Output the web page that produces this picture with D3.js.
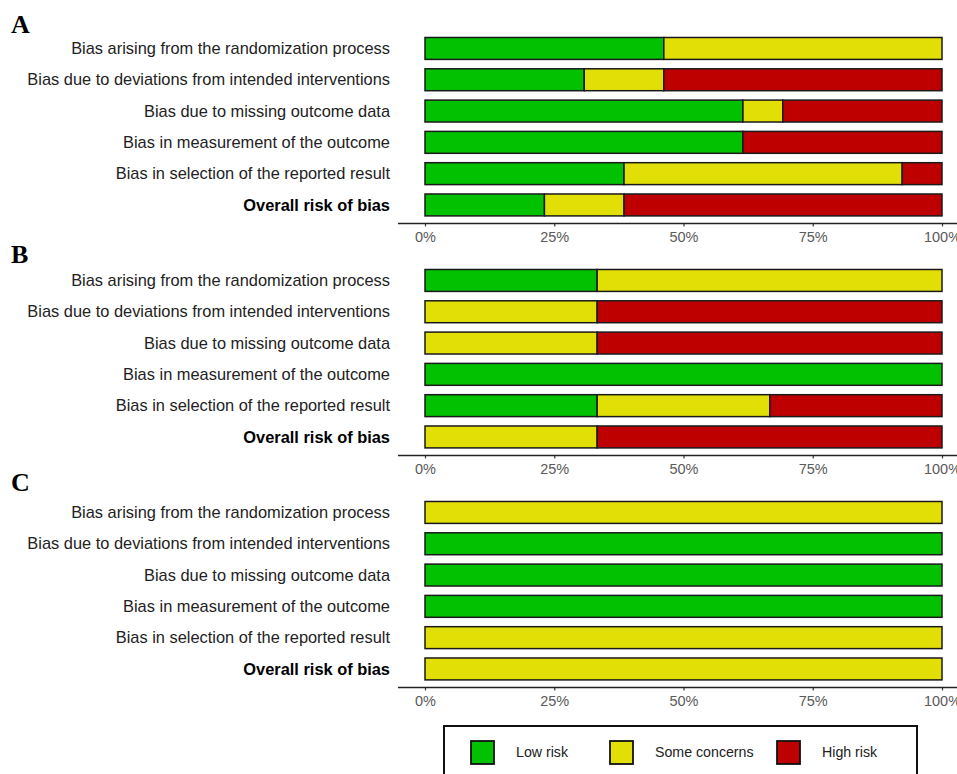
<!DOCTYPE html>
<html>
<head>
<meta charset="utf-8">
<script src="https://cdn.jsdelivr.net/npm/d3@7"></script>
<style>
  html, body { margin: 0; padding: 0; background: #fff; }
  svg { display: block; }
</style>
</head>
<body>
<svg id="chart" width="957" height="774"></svg>
<script>
// ---- data ----
const domains = [
  "Bias arising from the randomization process",
  "Bias due to deviations from intended interventions",
  "Bias due to missing outcome data",
  "Bias in measurement of the outcome",
  "Bias in selection of the reported result",
  "Overall risk of bias"
];
const panelLabels = ["A", "B", "C"];
const judgements = ["Low risk", "Some concerns", "High risk"];
const judgementColors = ["#02C100", "#E2DF07", "#BF0000"];
const tickValues = [0, 25, 50, 75, 100];

// percentage of studies per domain
const lowA  = [46.2, 30.8, 61.5, 61.5, 38.5, 23.1];
const someA = [53.8, 15.4,  7.7,  0.0, 53.8, 15.4];
const highA = [ 0.0, 53.8, 30.8, 38.5,  7.7, 61.5];

const lowB  = [33.3,  0.0,  0.0, 100.0, 33.3,  0.0];
const someB = [66.7, 33.3, 33.3,   0.0, 33.4, 33.3];
const highB = [ 0.0, 66.7, 66.7,   0.0, 33.3, 66.7];

const lowC  = [  0.0, 100.0, 100.0, 100.0,   0.0,   0.0];
const someC = [100.0,   0.0,   0.0,   0.0, 100.0, 100.0];
const highC = [  0.0,   0.0,   0.0,   0.0,   0.0,   0.0];

const panels = [
  { label: panelLabels[0], low: lowA, some: someA, high: highA },
  { label: panelLabels[1], low: lowB, some: someB, high: highB },
  { label: panelLabels[2], low: lowC, some: someC, high: highC }
];

// ---- layout ----
const svg = d3.select("#chart");
const x = d3.scaleLinear().domain([0, 100]).range([425, 942]);
const color = d3.scaleOrdinal().domain(judgements).range(judgementColors);
const panelTop0 = 32.8;
const panelStep = 232;
const bandStep = 31.3;
const labelRight = 390;

panels.forEach((p, pi) => {
  const top = panelTop0 + pi * panelStep;
  const y = d3.scaleBand().domain(domains)
    .range([top, top + bandStep * domains.length])
    .paddingInner(0.3).paddingOuter(0.15);

  const g = svg.append("g");

  // panel letter
  svg.append("text")
    .attr("x", 11).attr("y", 33 + pi * 230 - (pi === 2 ? 2 : 0))
    .attr("font-family", "Liberation Serif, Times New Roman, serif")
    .attr("font-weight", "bold")
    .attr("font-size", 26)
    .attr("fill", "#000")
    .text(p.label);

  const rows = domains.map((d, i) => ({
    domain: d, "Low risk": p.low[i], "Some concerns": p.some[i], "High risk": p.high[i]
  }));
  const series = d3.stack().keys(judgements)(rows);

  series.forEach(s => {
    g.selectAll(null)
      .data(s.filter(d => d[1] - d[0] > 0.01))
      .enter().append("rect")
      .attr("x", d => x(d[0]))
      .attr("width", d => x(d[1]) - x(d[0]))
      .attr("y", d => y(d.data.domain))
      .attr("height", y.bandwidth())
      .attr("fill", color(s.key))
      .attr("stroke", "#1a1a1a")
      .attr("stroke-width", 1.5);
  });

  // domain labels
  g.selectAll(null).data(domains).enter().append("text")
    .attr("x", labelRight)
    .attr("y", d => y(d) + y.bandwidth() / 2)
    .attr("dy", "0.35em")
    .attr("text-anchor", "end")
    .attr("font-family", "Liberation Sans, Arial, sans-serif")
    .attr("font-size", 16.4)
    .attr("font-weight", (d, i) => i === domains.length - 1 ? "bold" : "normal")
    .attr("fill", (d, i) => i === domains.length - 1 ? "#000" : "#222")
    .text(d => d);

  // x axis
  const axisY = y(domains[domains.length - 1]) + y.bandwidth() + 7.5;
  const axis = d3.axisBottom(x).tickValues(tickValues)
    .tickFormat(d => d + "%").tickSize(3).tickPadding(5.5);
  const ag = svg.append("g").attr("transform", `translate(0,${axisY})`).call(axis);
  ag.select(".domain").remove();
  ag.append("line").attr("x1", 398).attr("x2", 957).attr("y1", 0).attr("y2", 0)
    .attr("stroke", "#222").attr("stroke-width", 1.5);
  ag.selectAll(".tick line").attr("stroke", "#333").attr("stroke-width", 1.2);
  ag.selectAll(".tick text")
    .attr("font-family", "Liberation Sans, Arial, sans-serif")
    .attr("font-size", 14.5)
    .attr("fill", "#5a5a5a");
});

// ---- legend ----
const lg = svg.append("g");
lg.append("rect").attr("x", 444).attr("y", 726).attr("width", 473).attr("height", 70)
  .attr("fill", "#fff").attr("stroke", "#111").attr("stroke-width", 2);
const legendOffsets = [471, 610, 777];
judgements.forEach((j, i) => {
  const lx = legendOffsets[i];
  lg.append("rect").attr("x", lx).attr("y", 741).attr("width", 23).attr("height", 23)
    .attr("fill", color(j)).attr("stroke", "#111").attr("stroke-width", 1.8);
  lg.append("text").attr("x", lx + 45).attr("y", 752.5).attr("dy", "0.35em")
    .attr("font-family", "Liberation Sans, Arial, sans-serif")
    .attr("font-size", 14.2).attr("fill", "#222").text(j);
});
</script>
</body>
</html>
